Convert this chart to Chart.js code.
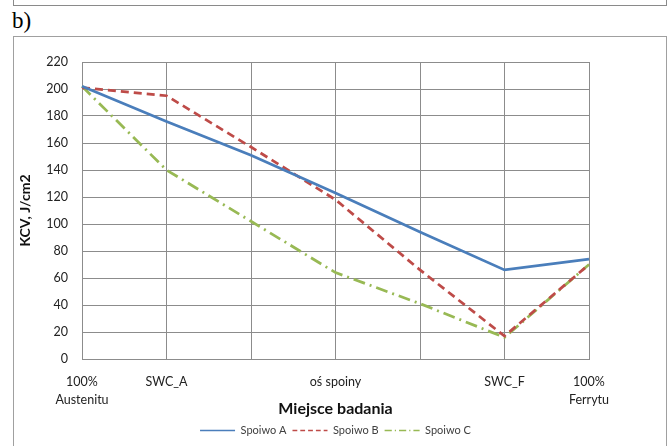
<!DOCTYPE html>
<html>
<head>
<meta charset="utf-8" />
<title>KCV</title>
<script src="https://cdn.jsdelivr.net/npm/chart.js@4.4.1/dist/chart.umd.min.js"></script>
<style>
	html, body { margin: 0; padding: 0; background: #fff; }
	#wrap { position: relative; width: 671px; height: 446px; overflow: hidden; }
	#prev { position: absolute; left: 13px; top: -12px; width: 652px; height: 16px; border: 1px solid #8a8a8a; }
	#frame { position: absolute; left: 13px; top: 36px; width: 652px; height: 430px; border: 1px solid #a0a0a0; }
	#lbl { position: absolute; left: 12px; top: 8px; font-family: "Liberation Serif", serif; font-size: 23px; color: #000; }
	canvas { position: absolute; left: 0; top: 0; }
</style>
</head>
<body>
<div id="wrap">
	<div id="prev"></div>
	<div id="frame"></div>
	<div id="lbl">b)</div>
	<canvas id="chart" width="671" height="446"></canvas>
</div>

<script>
var categories = [['100%', 'Austenitu'], 'SWC_A', '', 'oś spoiny', '', 'SWC_F', ['100%', 'Ferrytu']];
var spoiwoA = [202, 176, 151, 123, 94, 66, 74];
var spoiwoB = [201, 195, 157, 118, 66, 17, 70];
var spoiwoC = [202, 140, 102, 64, 41, 16, 70];
var yTicks = [0, 20, 40, 60, 80, 100, 120, 140, 160, 180, 200, 220];

var font = 'Lato, "Open Sans", sans-serif';

new Chart(document.getElementById('chart'), {
	type: 'line',
	data: {
		labels: categories,
		datasets: [
			{ label: 'Spoiwo A', data: spoiwoA, borderColor: '#4a7ebb', backgroundColor: '#4a7ebb', borderWidth: 2.75, pointRadius: 0, tension: 0 },
			{ label: 'Spoiwo B', data: spoiwoB, borderColor: '#be4b48', backgroundColor: '#be4b48', borderWidth: 2.75, borderDash: [8, 5], pointRadius: 0, tension: 0 },
			{ label: 'Spoiwo C', data: spoiwoC, borderColor: '#98b954', backgroundColor: '#98b954', borderWidth: 2.75, borderDash: [12, 5, 2, 5], pointRadius: 0, tension: 0 }
		]
	},
	options: {
		responsive: false,
		animation: false,
		layout: { padding: { left: 14, right: 82, top: 62, bottom: 0 } },
		plugins: {
			tooltip: { enabled: false },
			legend: {
				position: 'bottom',
				fullSize: false,
				labels: {
					usePointStyle: true,
					pointStyle: 'line',
					pointStyleWidth: 35,
					padding: 6,
					color: '#404040',
					font: { family: font, size: 11 },
					generateLabels: function (chart) {
						var items = Chart.defaults.plugins.legend.labels.generateLabels(chart);
						items.forEach(function (item) {
							var ds = chart.data.datasets[item.datasetIndex];
							item.lineDash = ds.borderDash ? ds.borderDash.map(function (d) { return d * 0.6; }) : [];
							item.lineWidth = 1.5;
						});
						return items;
					}
				}
			}
		},
		scales: {
			x: {
				offset: false,
				grid: { color: '#8c8c8c', drawTicks: false },
				border: { color: '#8c8c8c' },
				ticks: {
					autoSkip: false,
					maxRotation: 0,
					padding: 14,
					color: '#222',
					font: { family: font, size: 12.5, lineHeight: 1.45 }
				},
				title: {
					display: true,
					text: 'Miejsce badania',
					color: '#111',
					padding: { top: 0, bottom: 1 },
					font: { family: font, size: 16, weight: 'bold' }
				},
				afterFit: function (scale) { scale.height = 60; }
			},
			y: {
				min: 0,
				max: 220,
				afterBuildTicks: function (scale) {
					scale.ticks = yTicks.map(function (v) { return { value: v }; });
				},
				grid: { color: '#8c8c8c', drawTicks: false },
				border: { color: '#8c8c8c' },
				ticks: {
					padding: 14,
					color: '#222',
					font: { family: font, size: 12.5 }
				},
				title: {
					display: true,
					text: 'KCV, J/cm2',
					color: '#111',
					padding: { top: 3, bottom: 0 },
					font: { family: font, size: 14, weight: 'bold' }
				},
				afterFit: function (scale) { scale.width = 68; }
			}
		}
	}
});
</script>
</body>
</html>
